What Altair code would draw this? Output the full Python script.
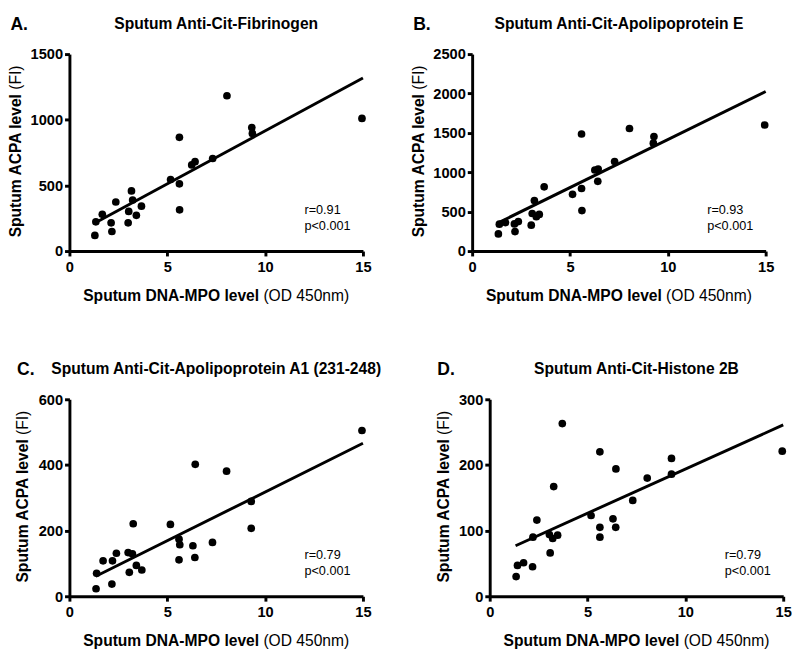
import altair as alt
import pandas as pd

FONT = "Liberation Sans, Arial, Helvetica, sans-serif"

# ---------------- data ----------------
x_ticks = [0, 5, 10, 15]

# Panel A: Sputum Anti-Cit-Fibrinogen
a_x = [1.30, 1.35, 1.68, 2.13, 2.17, 2.37, 3.00, 3.03, 3.17, 3.23, 3.42, 3.68,
       5.17, 5.62, 5.62, 5.63, 6.25, 6.42, 7.32, 8.05, 9.32, 9.35, 14.95]
a_y = [119, 223, 280, 215, 149, 374, 215, 302, 458, 389, 272, 342,
       545, 512, 866, 314, 656, 681, 705, 1183, 941, 896, 1010]
a_fit_x = [1.35, 15]
a_fit_y = [218, 1318]

# Panel B: Sputum Anti-Cit-Apolipoprotein E
b_x = [1.34, 1.39, 1.70, 2.16, 2.19, 2.36, 3.02, 3.07, 3.18, 3.28, 3.43, 3.68,
       5.13, 5.59, 5.59, 5.61, 6.27, 6.42, 6.44, 7.28, 8.04, 9.26, 9.29, 14.95]
b_y = [218, 342, 362, 345, 247, 374, 329, 477, 642, 436, 465, 815,
       720, 794, 1486, 514, 1029, 885, 1041, 1136, 1556, 1370, 1453, 1600]
b_fit_x = [1.3, 15]
b_fit_y = [355, 2025]

# Panel C: Sputum Anti-Cit-Apolipoprotein A1 (231-248)
c_x = [1.36, 1.39, 1.72, 2.17, 2.20, 2.40, 3.00, 3.06, 3.22, 3.26, 3.42, 3.70,
       5.16, 5.60, 5.60, 5.64, 6.31, 6.41, 6.43, 7.31, 8.03, 9.29, 9.29, 14.95]
c_y = [23, 70, 108, 37, 108, 131, 133, 73, 129, 221, 94, 80,
       219, 174, 111, 157, 154, 118, 402, 164, 381, 289, 207, 505]
c_fit_x = [1.35, 15]
c_fit_y = [61, 466]

# Panel D: Sputum Anti-Cit-Histone 2B
d_x = [1.35, 1.42, 1.73, 2.19, 2.21, 2.41, 3.05, 3.09, 3.22, 3.27, 3.47, 3.71,
       5.18, 5.63, 5.63, 5.63, 6.30, 6.44, 6.45, 7.31, 8.05, 9.29, 9.29, 14.95]
d_y = [30, 47, 51, 45, 90, 116, 94, 66, 88, 167, 93, 263,
       123, 220, 105, 90, 118, 105, 194, 146, 180, 210, 186, 221]
d_fit_x = [1.32, 15]
d_fit_y = [77, 261]

titles = ["Sputum Anti-Cit-Fibrinogen",
          "Sputum Anti-Cit-Apolipoprotein E",
          "Sputum Anti-Cit-Apolipoprotein A1 (231-248)",
          "Sputum Anti-Cit-Histone 2B"]
labels = ["A.", "B.", "C.", "D."]
y_ticks = [[0, 500, 1000, 1500],
           [0, 500, 1000, 1500, 2000, 2500],
           [0, 200, 400, 600],
           [0, 100, 200, 300]]
r_texts = ["r=0.91", "r=0.93", "r=0.79", "r=0.79"]
p_text = "p<0.001"
x_title_bold = "Sputum DNA-MPO level"
x_title_norm = "(OD 450nm)"
y_title_bold = "Sputum ACPA level"
y_title_norm = "(FI)"

W, H = 301, 202


def txt(s, x, y, size, weight="normal", align="left", angle=0):
    return alt.Chart(pd.DataFrame({"t": [s]})).mark_text(
        align=align, baseline="alphabetic", font=FONT, fontSize=size,
        fontWeight=weight, color="black", angle=angle
    ).encode(text="t:N", x=alt.value(x), y=alt.value(y))


def panel(xs, ys, fx, fy, title, label, yt, r_text, ytitle_dx, label_dx):
    pts = pd.DataFrame({"x": xs, "y": ys})
    fit = pd.DataFrame({"x": fx, "y": fy})
    xscale = alt.Scale(domain=[0, 15], nice=False, zero=True)
    yscale = alt.Scale(domain=[0, yt[-1]], nice=False, zero=True)
    common = dict(title=None, grid=False, domainColor="black", domainWidth=3,
                  tickColor="black", tickWidth=3, tickSize=5, format="d",
                  labelFont=FONT, labelFontSize=15, labelFontWeight="bold",
                  labelColor="black", labelFlush=False, labelOverlap=False)
    xaxis = alt.Axis(values=x_ticks, labelPadding=4, **common)
    yaxis = alt.Axis(values=yt, labelPadding=2, **common)
    points = alt.Chart(pts).mark_circle(size=62, color="black", opacity=1).encode(
        x=alt.X("x:Q", scale=xscale, axis=xaxis),
        y=alt.Y("y:Q", scale=yscale, axis=yaxis))
    line = alt.Chart(fit).mark_line(color="black", strokeWidth=3).encode(
        x="x:Q", y="y:Q")
    layers = [line, points,
              txt(title, W / 2, -26, 16, "bold", "center"),
              txt(label, label_dx, -25, 18, "bold"),
              txt(r_text, 241, H - 38, 13),
              txt(p_text, 241, H - 21.5, 13),
              txt(x_title_bold, 194.5, H + 51, 16, "bold", "right"),
              txt(x_title_norm, 198.9, H + 51, 16, "normal", "left"),
              txt(y_title_bold, ytitle_dx, 41, 16, "bold", "right", 270),
              txt(y_title_norm, ytitle_dx, 36.6, 16, "normal", "left", 270)]
    return alt.layer(*layers).properties(width=W, height=H)


pA = panel(a_x, a_y, a_fit_x, a_fit_y, titles[0], labels[0], y_ticks[0], r_texts[0], -49.5, -60.5)
pB = panel(b_x, b_y, b_fit_x, b_fit_y, titles[1], labels[1], y_ticks[1], r_texts[1], -49.5, -60.5)
pC = panel(c_x, c_y, c_fit_x, c_fit_y, titles[2], labels[2], y_ticks[2], r_texts[2], -42, -53.7)
pD = panel(d_x, d_y, d_fit_x, d_fit_y, titles[3], labels[3], y_ticks[3], r_texts[3], -42, -53.7)

row1 = alt.hconcat(pA, pB, spacing=40)
row2 = alt.hconcat(pC, pD, spacing=55)
chart = alt.vconcat(row1, row2, spacing=59).properties(
    padding={"left": 0, "top": 0, "right": 0, "bottom": 0},
    background="white"
).configure_view(stroke=None)

chart.save("out.html", embed_options={"renderer": "svg", "actions": False})
